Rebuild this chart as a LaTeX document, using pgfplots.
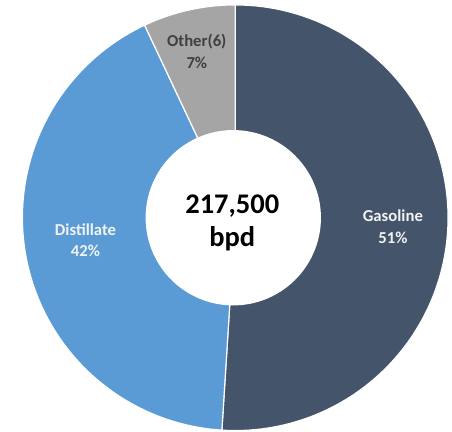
\documentclass[border=0pt]{standalone}
\usepackage{pgfplots}
\pgfplotsset{compat=1.18}
\usepackage{pgfplotstable}
\usepackage{fontspec}
\setmainfont{Carlito}

\definecolor{gascol}{HTML}{44546A}
\definecolor{distcol}{HTML}{5B9BD5}
\definecolor{othcol}{HTML}{A5A5A5}
\definecolor{lblwhite}{HTML}{F2F2F2}
\definecolor{lbldark}{HTML}{404040}

% refinery output shares, percent
\pgfplotstableread{
label value
Gasoline 51
Distillate 42
Other 7
}\sharetable

\begin{document}
\pgfplotstablegetelem{0}{value}\of\sharetable \let\vgas\pgfplotsretval
\pgfplotstablegetelem{1}{value}\of\sharetable \let\vdist\pgfplotsretval
\pgfplotstablegetelem{2}{value}\of\sharetable \let\voth\pgfplotsretval
% slices run clockwise from 12 o'clock
\pgfmathsetmacro{\agas}{90-3.6*\vgas}
\pgfmathsetmacro{\adist}{\agas-3.6*\vdist}
\pgfmathsetmacro{\aoth}{\adist-3.6*\voth}

\begin{tikzpicture}
\begin{axis}[hide axis, scale only axis, width=452bp, height=438bp,
  xmin=0, xmax=452, ymin=0, ymax=438, clip=false]
\addplot[fill=gascol, draw=white, line width=1.2pt, domain=\agas:90, samples=100]
  ({232+216*cos(x)},{217+216*sin(x)}) -- (232,217) -- cycle;
\addplot[fill=distcol, draw=white, line width=1.2pt, domain=\adist:\agas, samples=100]
  ({232+216*cos(x)},{217+216*sin(x)}) -- (232,217) -- cycle;
\addplot[fill=othcol, draw=white, line width=1.2pt, domain=\aoth:\adist, samples=30]
  ({232+216*cos(x)},{217+216*sin(x)}) -- (232,217) -- cycle;
% donut hole
\addplot[fill=white, draw=none, domain=0:360, samples=120]
  ({230+89*cos(x)},{217+89*sin(x)}) -- cycle;

\node[align=center, font=\bfseries\fontsize{17}{22}\selectfont, text=lblwhite] at (392,208) {Gasoline\\51\%};
\node[align=center, font=\bfseries\fontsize{17}{22}\selectfont, text=lblwhite] at (80,194) {Distillate\\42\%};
\node[align=center, font=\bfseries\fontsize{17}{22}\selectfont, text=lbldark] at (193,386) {Other(6)\\7\%};
\node[align=center, font=\bfseries\fontsize{29}{34}\selectfont, text=black] at (229,212) {217,500\\bpd};
\end{axis}
\path (current axis.south west) rectangle (current axis.north east);
\end{tikzpicture}
\end{document}
